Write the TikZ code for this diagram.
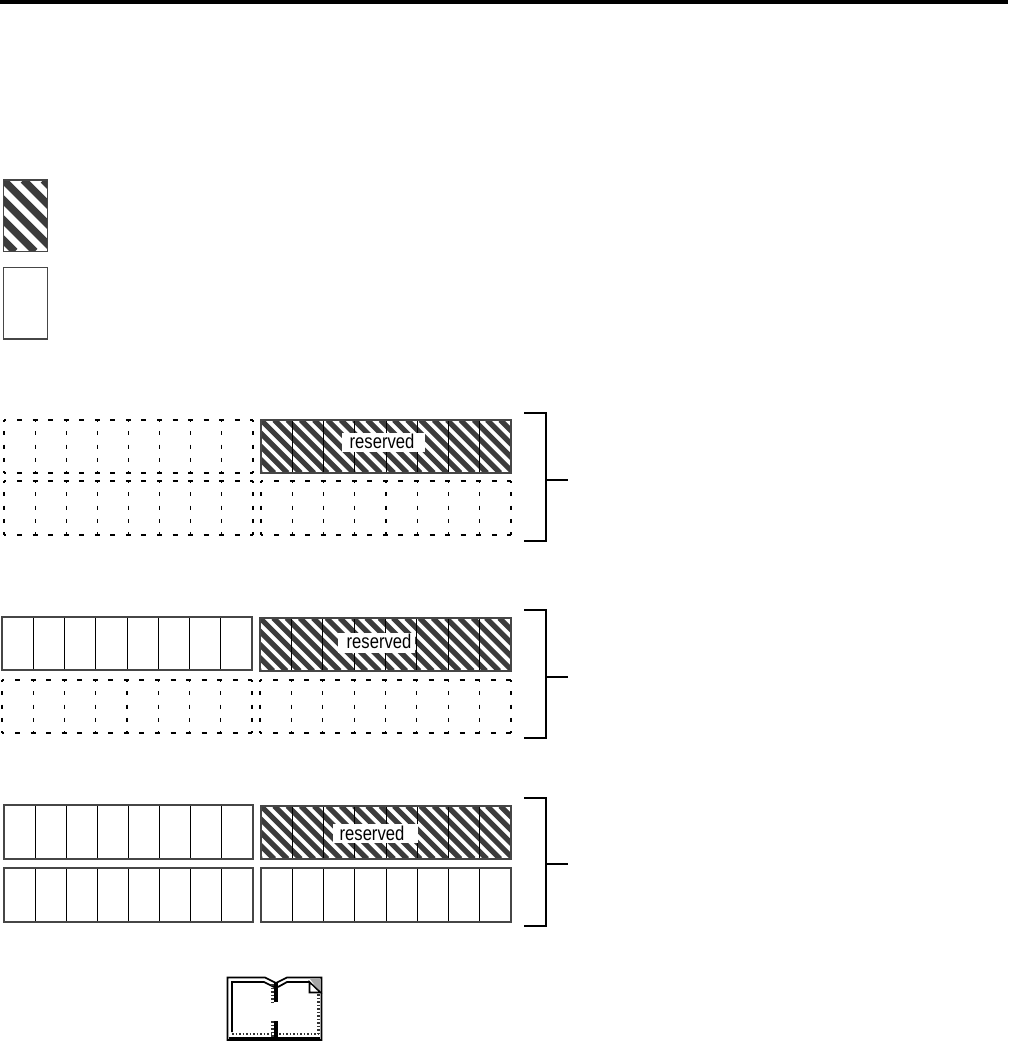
\documentclass[tikz,border=0pt]{standalone}
\usepackage{fontspec}
\setmainfont{Liberation Sans}
\usetikzlibrary{positioning, calc}
\definecolor{hatchdark}{RGB}{60, 60, 60}
\definecolor{boxline}{RGB}{70, 70, 70}
\tikzset{
    solidcell/.style={draw=boxline, line width=0.65pt},
    cellrule/.style={draw=black, line width=0.55pt},
    dashcell/.style={draw=black, line width=0.6pt},
    dashh/.style={dashcell, dash pattern=on 2.8pt off 6.05pt, dash phase=1.4pt},
    dashv/.style={dashcell, dash pattern=on 2.3pt off 5.25pt, dash phase=1.15pt},
    reservedlabel/.style={inner sep=0pt, xscale=0.83, font=\fontsize{11.4}{13}\selectfont},
    bracketline/.style={draw=black, line width=0.7pt},
    stipple/.style={draw=black!80, line width=1.3pt, dash pattern=on 1pt off 1pt}
}
% hatched area: x0, y0, x1, y1, stripe period, stripe width
\newcommand{\hatcharea}[6]{
    \begin{scope}
        \clip (#1,#2) rectangle (#3,#4);
        \pgfmathsetmacro{\hgt}{#4-#2}
        \foreach \k in {-8,...,40} {
            \draw[hatchdark, line width=#6] ({#1+\k*#5},#2) -- ++(\hgt,\hgt);
        }
    \end{scope}
}
% row of eight cells, solid: x0, y0, x1, y1
\newcommand{\solidrow}[4]{
    \foreach \k in {1,...,7} {
        \draw[cellrule] ({#1+\k*(#3-#1)/8},#2) -- ({#1+\k*(#3-#1)/8},#4);
    }
    \draw[solidcell] (#1,#2) rectangle (#3,#4);
}
% row of eight cells, dashed: x0, y0, x1, y1
\newcommand{\dashrow}[4]{
    \draw[dashh] (#1,#2) -- (#3,#2);
    \draw[dashh] (#1,#4) -- (#3,#4);
    \foreach \k in {0,...,8} {
        \draw[dashv] ({#1+\k*(#3-#1)/8},#2) -- ({#1+\k*(#3-#1)/8},#4);
    }
}
\begin{document}
\begin{tikzpicture}[x=0.02cm, y=-0.02cm]
    \useasboundingbox (0,0) rectangle (1008,1044);

    % top rule
    \fill[black] (0,0) rectangle (1008,3.6);

    % legend
    \hatcharea{3.3}{180}{47.5}{251.5}{20}{4.2pt}
    \draw[boxline, line width=0.9pt] (3.3,180) rectangle (47.5,251.5);
    \draw[boxline, line width=0.9pt] (3.3,267.5) rectangle (47.5,339);

    % first group
    \dashrow{4}{420}{253}{473}
    \hatcharea{261}{420}{511}{473}{13.3}{3pt}
    \solidrow{261}{420}{511}{473}
    \fill[white] (342,433) rectangle (425,452);
    \node[reservedlabel] (resa) at (382,441.5) {reserved};
    \dashrow{4}{481}{253}{535}
    \dashrow{261}{481}{511}{535}

    % second group
    \solidrow{2}{617}{252}{670}
    \hatcharea{260}{618}{511}{671}{13.3}{3pt}
    \solidrow{260}{618}{511}{671}
    \fill[white] (338,633) rectangle (415,653);
    \node[reservedlabel] (resb) at (379,641.5) {reserved};
    \dashrow{2}{680}{252}{733}
    \dashrow{260}{680}{511}{733}

    % third group
    \solidrow{4}{805}{253}{859}
    \hatcharea{261}{806}{511}{859}{13.3}{3pt}
    \solidrow{261}{806}{511}{859}
    \fill[white] (333,824) rectangle (418,843);
    \node[reservedlabel] (resc) at (372,833.5) {reserved};
    \solidrow{4}{868}{253}{922}
    \solidrow{261}{868}{511}{922}

    % brackets
    \foreach \name/\ytop/\ymid/\ybot in {a/413/480/541, b/610/677/738, c/798/864/926} {
        \coordinate (top\name) at (524,\ytop);
        \coordinate (bot\name) at (524,\ybot);
        \coordinate (mid\name) at (546,\ymid);
        \coordinate (tip\name) at (568,\ymid);
        \draw[bracketline] (top\name) -- ++(22,0) |- (bot\name);
        \draw[bracketline] (mid\name) -- (tip\name);
    }

    % book icon
    \draw[black, line width=1pt] (227.5,977.5) -- (265,977.5) -- (276,983) -- (287,977.5) -- (321.5,977.5) -- (321.5,1040) -- (227.5,1040) -- cycle;
    \draw[black, line width=1pt] (232,1032) -- (232,982) -- (264,982) -- (274,987);
    \draw[black, line width=1pt] (278,987) -- (287,982) -- (309,982);
    \draw[black, line width=2.2pt] (276,983) -- (276,1002);
    \draw[black, line width=2.2pt] (276,1021) -- (276,1040);
    \draw[stipple] (272.5,984) -- (272.5,1002);
    \draw[stipple] (272.5,1021) -- (272.5,1038);
    \draw[stipple] (232,1034) -- (272,1034);
    \draw[black, line width=1pt] (229,1038) -- (320,1038);
    \draw[stipple] (279,1034) -- (319,1034);
    \draw[stipple] (318.5,994) -- (318.5,1036);
    \fill[black!35] (310,979) -- (320,979) -- (320,992) -- cycle;
    \draw[black, line width=0.9pt] (309.5,982) -- (309.5,992.5) -- (320.5,992.5) -- cycle;
\end{tikzpicture}
\end{document}
